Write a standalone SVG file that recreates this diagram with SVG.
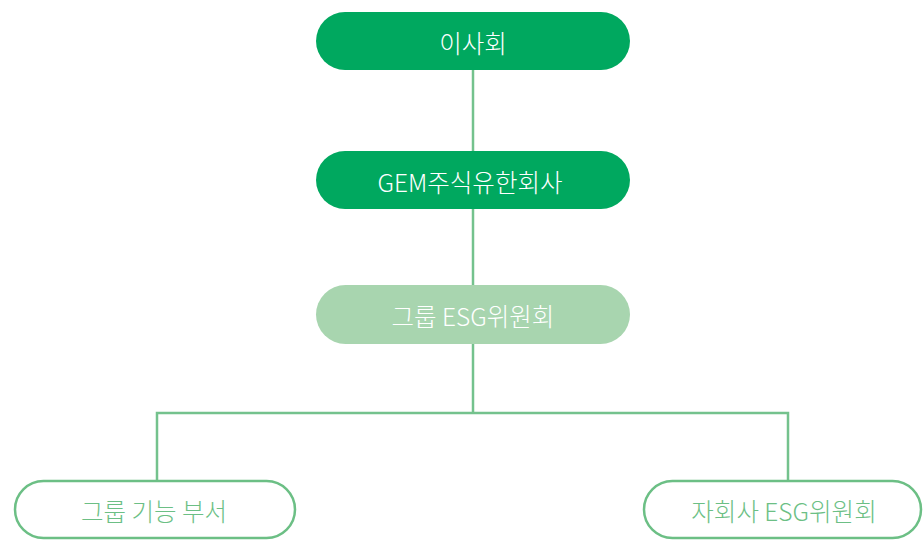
<svg xmlns="http://www.w3.org/2000/svg" width="923" height="541" viewBox="0 0 923 541">
<style>
.t{font-family:"Noto Sans CJK KR","Noto Sans",sans-serif;font-size:24.5px;font-weight:300;text-anchor:middle;dominant-baseline:central}
.dark{fill:#00A85F}
.light{fill:#A8D5AF}
.out{fill:#FFFFFF;stroke:#6CBF85;stroke-width:2.5}
.w{fill:#FFFFFF}
.g{fill:#6CBF85}
.c{fill:none;stroke:#74C28D;stroke-width:2.5}
</style>
<rect width="923" height="541" fill="#FFFFFF"/>
<g id="connectors">
<line class="c" x1="473" y1="70" x2="473" y2="151"/>
<line class="c" x1="473" y1="209" x2="473" y2="285"/>
<polyline class="c" points="473,344 473,413"/>
<polyline class="c" points="157,481 157,413 788,413 788,481"/>
</g>
<g id="n1">
<rect class="dark" x="316" y="12" width="314" height="58" rx="29"/>
<text class="t w" x="473" y="42">이사회</text>
</g>
<g id="n2">
<rect class="dark" x="316" y="151" width="314" height="58" rx="29"/>
<text class="t w" x="470" y="181">GEM주식유한회사</text>
</g>
<g id="n3">
<rect class="light" x="316" y="285" width="314" height="59" rx="29.5"/>
<text class="t w" x="473" y="315">그룹 ESG위원회</text>
</g>
<g id="n4">
<rect class="out" x="15" y="481" width="280" height="57" rx="28.5"/>
<text class="t g" x="154" y="510">그룹 기능 부서</text>
</g>
<g id="n5">
<rect class="out" x="644" y="481" width="277" height="57" rx="28.5"/>
<text class="t g" x="784" y="510">자회사 ESG위원회</text>
</g>
</svg>
